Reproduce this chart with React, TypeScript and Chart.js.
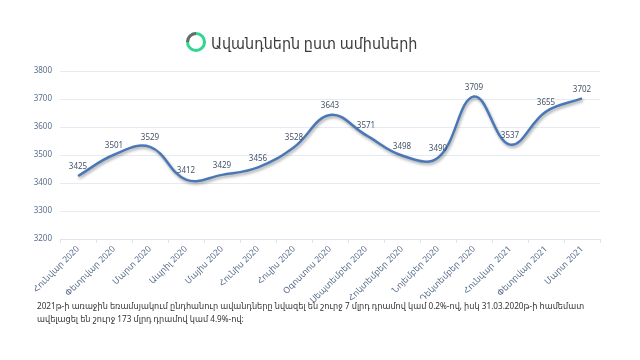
import React, { useEffect, useRef } from "react";
import { Chart, registerables } from "chart.js";

Chart.register(...registerables);

const TITLE = "Ավանդներն ըստ ամիսների";
const FOOTNOTE_1 =
  "2021թ-ի առաջին եռամսյակում ընդհանուր ավանդները նվազել են շուրջ 7 մլրդ դրամով կամ 0.2%-ով, իսկ 31.03.2020թ-ի համեմատ";
const FOOTNOTE_2 = "ավելացել են շուրջ 173 մլրդ դրամով կամ 4.9%-ով:";

const months = [
  "Հունվար 2020",
  "Փետրվար 2020",
  "Մարտ 2020",
  "Ապրիլ 2020",
  "Մայիս 2020",
  "Հունիս 2020",
  "Հուլիս 2020",
  "Օգոստոս 2020",
  "Սեպտեմբեր 2020",
  "Հոկտեմբեր 2020",
  "Նոյեմբեր 2020",
  "Դեկտեմբեր 2020",
  "Հունվար  2021",
  "Փետրվար 2021",
  "Մարտ 2021",
];
const deposits = [3425, 3501, 3529, 3412, 3429, 3456, 3528, 3643, 3571, 3498, 3490, 3709, 3537, 3655, 3702];
const yMin = 3200;
const yMax = 3800;
const yStep = 100;

const FONT = "'Noto Sans', 'DejaVu Sans', sans-serif";

export default function App() {
  const ref = useRef<HTMLCanvasElement | null>(null);
  useEffect(() => {
    if (!ref.current) return;
    const shadowPlugin = {
      id: "shadow",
      beforeDatasetDraw(chart: any) {
        const ctx = chart.ctx;
        ctx.save();
        ctx.shadowColor = "rgba(0,0,0,0.35)";
        ctx.shadowBlur = 3;
        ctx.shadowOffsetX = 1;
        ctx.shadowOffsetY = 2;
      },
      afterDatasetDraw(chart: any) {
        chart.ctx.restore();
      },
    };
    const labelPlugin = {
      id: "valueLabels",
      afterDatasetsDraw(chart: any) {
        const ctx = chart.ctx;
        const meta = chart.getDatasetMeta(0);
        ctx.save();
        ctx.font = `8px ${FONT}`;
        ctx.fillStyle = "#44546a";
        ctx.textAlign = "center";
        ctx.textBaseline = "bottom";
        meta.data.forEach((pt: any, i: number) => {
          ctx.fillText(String(deposits[i]), pt.x, pt.y - 5);
        });
        ctx.restore();
      },
    };
    const chart = new Chart(ref.current, {
      type: "line",
      data: {
        labels: months,
        datasets: [
          {
            data: deposits,
            borderColor: "#4a78b6",
            borderWidth: 2.5,
            tension: 0.4,
            pointRadius: 0,
            fill: false,
          },
        ],
      },
      options: {
        animation: false,
        responsive: false,
        layout: { padding: { left: 0, right: 40, top: 71, bottom: 0 } },
        plugins: { legend: { display: false }, tooltip: { enabled: false } },
        scales: {
          x: {
            offset: true,
            grid: { display: true, drawOnChartArea: false, color: "#dfe3ec", tickLength: 4, offset: true },
            border: { color: "#dfe3ec" },
            ticks: {
              color: "#5a6f8c",
              font: { size: 8.5, family: FONT },
              maxRotation: 45,
              minRotation: 45,
              autoSkip: false,
              padding: 1,
            },
            afterFit(scale: any) {
              scale.height = 121;
            },
          },
          y: {
            min: yMin,
            max: yMax,
            ticks: {
              stepSize: yStep,
              color: "#5a6f8c",
              font: { size: 8, family: FONT },
              padding: 8,
              callback: (v: any) => String(v),
            },
            grid: { color: "#e6eaf2", drawTicks: false },
            border: { display: false },
            afterFit(scale: any) {
              scale.width = 60;
            },
          },
        },
      },
      plugins: [shadowPlugin, labelPlugin],
    });
    return () => chart.destroy();
  }, []);

  return (
    <div style={{ position: "fixed", left: 0, top: 0, width: 640, height: 360, background: "#fff", overflow: "hidden", fontFamily: FONT }}>
      <canvas ref={ref} width={640} height={360} style={{ position: "absolute", left: 0, top: 0 }} />
      <div style={{ position: "absolute", left: 185, top: 30, display: "flex", alignItems: "center", height: 24 }}>
        <svg width="22" height="22" viewBox="0 0 22 22">
          <circle cx="11" cy="11" r="8.5" fill="none" stroke="#2fd68e" strokeWidth="3" />
          <path d="M 2.5 11 A 8.5 8.5 0 0 1 11 2.5" fill="none" stroke="#6b6b6b" strokeWidth="3" />
        </svg>
        <span
          style={{
            marginLeft: 4,
            fontSize: 16.5,
            color: "#3c3c3c",
            whiteSpace: "nowrap",
            display: "inline-block",
            transform: "scaleX(0.87)",
            transformOrigin: "left center",
          }}
        >
          {TITLE}
        </span>
      </div>
      <div
        style={{
          position: "absolute",
          left: 37,
          top: 299,
          fontSize: 9.5,
          lineHeight: "13px",
          color: "#333",
          whiteSpace: "nowrap",
          transform: "scaleX(0.86)",
          transformOrigin: "left top",
        }}
      >
        <div>{FOOTNOTE_1}</div>
        <div>{FOOTNOTE_2}</div>
      </div>
    </div>
  );
}
